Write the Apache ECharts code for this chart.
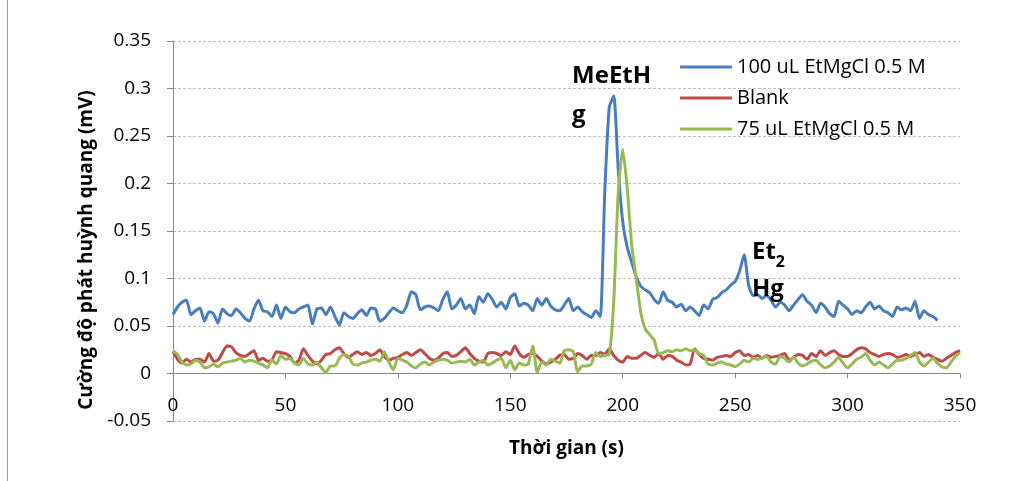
<!DOCTYPE html>
<html>
<head>
<meta charset="utf-8">
<script src="https://cdn.jsdelivr.net/npm/echarts@6/dist/echarts.min.js"></script>
<style>
html,body{margin:0;padding:0;background:#fff;}
#c{width:1011px;height:481px;}
</style>
</head>
<body>
<div id="c"></div>
<script>
const seriesNames = ['100 uL EtMgCl 0.5 M', 'Blank', '75 uL EtMgCl 0.5 M'];
const xTitle = 'Thời gian (s)';
const yTitle = 'Cường độ phát huỳnh quang (mV)';
const xTicks = [0, 50, 100, 150, 200, 250, 300, 350];
const yTicks = [-0.05, 0, 0.05, 0.1, 0.15, 0.2, 0.25, 0.3, 0.35];

const time = [0,2,4,6,8,10,12,14,16,18,20,22,24,26,28,30,32,34,36,38,40,42,44,46,48,50,52,54,56,58,60,62,64,66,68,70,
72,74,76,78,80,82,84,86,88,90,92,94,96,98,100,102,104,106,108,110,112,114,116,118,120,122,124,126,128,130,132,134,136,138,140,
142,144,146,148,150,152,154,156,158,160,162,164,166,168,170,172,174,176,178,180,182,184,186,188,190,192,194,196,198,200,202,204,206,208,210,
212,214,216,218,220,222,224,226,228,230,232,234,236,238,240,242,244,246,248,250,252,254,256,258,260,262,264,266,268,270,272,274,276,278,280,282,
284,286,288,290,292,294,296,298,300,302,304,306,308,310,312,314,316,318,320,322,324,326,328,330,332,334,336,338,340,342,344,346,348,350];

const blue = [0.062,0.070,0.075,0.077,0.062,0.066,0.069,0.055,0.065,0.063,
0.053,0.068,0.063,0.061,0.068,0.064,0.058,0.055,0.068,0.077,
0.066,0.065,0.060,0.072,0.058,0.070,0.065,0.064,0.068,0.070,
0.072,0.052,0.068,0.069,0.062,0.070,0.060,0.051,0.064,0.060,
0.058,0.063,0.067,0.061,0.069,0.068,0.055,0.058,0.064,0.069,
0.066,0.064,0.072,0.086,0.083,0.067,0.070,0.071,0.069,0.066,
0.078,0.086,0.068,0.072,0.079,0.068,0.072,0.063,0.081,0.075,
0.084,0.078,0.070,0.075,0.068,0.080,0.084,0.071,0.074,0.072,
0.066,0.079,0.072,0.079,0.071,0.067,0.066,0.072,0.079,0.066,
0.070,0.065,0.062,0.059,0.066,0.060,0.190,0.280,0.292,0.215,
0.160,0.133,0.117,0.102,0.092,0.088,0.085,0.078,0.074,0.086,
0.077,0.075,0.070,0.073,0.066,0.070,0.066,0.061,0.072,0.068,
0.078,0.080,0.085,0.088,0.093,0.097,0.108,0.125,0.093,0.082,
0.083,0.079,0.082,0.077,0.070,0.075,0.072,0.066,0.072,0.078,
0.083,0.076,0.072,0.064,0.074,0.070,0.063,0.060,0.076,0.072,
0.068,0.062,0.066,0.064,0.070,0.075,0.068,0.071,0.066,0.064,
0.060,0.070,0.067,0.069,0.066,0.076,0.058,0.066,0.062,0.060,
0.056];

const blank = [0.023,0.015,0.011,0.015,0.012,0.015,0.015,0.012,0.021,0.013,
0.014,0.022,0.029,0.028,0.022,0.019,0.018,0.021,0.024,0.014,
0.016,0.013,0.014,0.023,0.022,0.021,0.018,0.011,0.014,0.026,
0.019,0.013,0.010,0.014,0.020,0.021,
0.025,0.027,0.021,0.017,0.020,0.023,0.020,0.022,0.019,0.021,
0.025,0.018,0.014,0.016,0.017,0.020,0.022,0.019,0.022,0.025,
0.021,0.016,0.014,0.016,0.021,0.022,0.018,0.019,0.023,0.027,
0.021,0.016,0.013,0.012,0.021,
0.022,0.021,0.019,0.023,0.020,0.029,0.021,0.017,0.020,0.021,
0.018,0.013,0.010,0.012,0.015,0.019,0.020,0.015,0.016,0.021,
0.019,0.015,0.019,0.019,0.022,0.020,0.026,0.019,0.014,0.012,
0.018,0.016,0.016,0.019,0.022,
0.019,0.017,0.021,0.015,0.019,0.018,0.014,0.012,0.009,0.010,
0.026,0.020,0.016,0.015,0.014,0.017,0.018,0.019,0.018,0.022,
0.024,0.019,0.020,0.017,0.019,0.016,0.019,0.017,0.018,0.019,
0.021,0.014,0.017,0.020,0.019,0.015,
0.021,0.018,0.024,0.019,0.022,0.024,0.020,0.018,0.018,0.021,
0.025,0.027,0.026,0.022,0.020,0.018,0.020,0.021,0.020,0.017,
0.018,0.020,0.018,0.020,0.022,0.018,0.020,0.017,0.015,0.013,
0.016,0.019,0.022,0.024];

const green = [0.024,0.020,0.012,0.009,0.010,0.014,0.012,0.006,0.007,0.010,
0.007,0.011,0.012,0.013,0.014,0.016,0.012,0.014,0.013,0.011,
0.009,0.006,0.014,0.010,0.019,0.015,0.016,0.011,0.009,0.016,
0.010,0.009,0.012,0.006,0.001,0.008,
0.008,0.016,0.020,0.018,0.010,0.009,0.011,0.012,0.014,0.015,
0.013,0.023,0.012,0.004,0.016,0.014,0.012,0.008,0.006,0.010,
0.012,0.009,0.012,0.014,0.015,0.014,0.011,0.012,0.013,0.012,
0.015,0.009,0.012,0.014,0.009,
0.011,0.014,0.016,0.006,0.014,0.004,0.011,0.009,0.010,0.029,
0.001,0.012,0.009,0.015,0.013,0.011,0.024,0.025,0.023,0.002,
0.008,0.008,0.010,0.022,0.018,0.019,0.020,0.075,0.190,0.236,
0.195,0.135,0.100,0.065,0.047,
0.041,0.035,0.021,0.022,0.024,0.023,0.025,0.024,0.026,0.024,
0.025,0.021,0.019,0.010,0.009,0.011,0.012,0.010,0.009,0.007,
0.010,0.014,0.012,0.016,0.015,0.016,0.018,0.012,0.010,0.018,
0.016,0.012,0.017,0.011,0.008,0.010,
0.013,0.014,0.009,0.006,0.008,0.012,0.017,0.011,0.006,0.010,
0.015,0.017,0.021,0.014,0.009,0.012,0.009,0.006,0.010,0.014,
0.014,0.016,0.019,0.022,0.012,0.008,0.012,0.016,0.011,0.007,
0.006,0.012,0.018,0.022];

const annotTexts = ['{a|MeEtH}\n{a|g}', '{a|Et}{s|2}\n{b|Hg}'];
const annotT = [177.5, 257.5];
const annotV = [0.3335, 0.147];

const colors = ['#4A7EBB', '#BE4B48', '#98B954'];
const FONT = '"Open Sans", "DejaVu Sans", sans-serif';

function pairs(vals) { return vals.map((v, i) => [time[i], v]); }

const chart = echarts.init(document.getElementById('c'), null, {renderer: 'canvas'});
const valuesList = [blue, blank, green];

const option = {
  animation: false,
  backgroundColor: '#fff',
  textStyle: {fontFamily: FONT},
  grid: {left: 173, right: 51, top: 41, bottom: 60, containLabel: false, outerBoundsMode: 'none'},
  legend: {
    orient: 'vertical', left: 675, top: 52, itemGap: 11,
    itemWidth: 52, itemHeight: 3, icon: 'rect',
    textStyle: {fontFamily: FONT, fontSize: 20, color: '#000', lineHeight: 20},
    data: seriesNames
  },
  xAxis: {
    type: 'value', min: xTicks[0], max: xTicks[xTicks.length - 1], interval: 50,
    axisLine: {show: true, onZero: true, lineStyle: {color: '#868686', width: 1}},
    axisTick: {show: true, length: 5, lineStyle: {color: '#868686'}},
    axisLabel: {fontFamily: FONT, fontSize: 19, color: '#000', margin: -25},
    splitLine: {show: false},
    name: xTitle, nameLocation: 'middle', nameGap: 18,
    nameTextStyle: {fontFamily: FONT, fontSize: 19, fontWeight: 'bold', color: '#000'}
  },
  yAxis: {
    type: 'value', min: yTicks[0], max: yTicks[yTicks.length - 1], interval: 0.05,
    axisLine: {show: true, onZero: false, lineStyle: {color: '#868686', width: 1}},
    axisTick: {show: true, length: 6, lineStyle: {color: '#868686'}},
    axisLabel: {fontFamily: FONT, fontSize: 19, color: '#000', margin: 22,
      formatter: v => String(parseFloat(v.toFixed(2)))},
    splitLine: {show: true, lineStyle: {color: '#BDBDBD', width: 1, type: [3, 2]}},
    name: yTitle, nameLocation: 'middle', nameGap: 76, nameRotate: 90,
    nameTextStyle: {fontFamily: FONT, fontSize: 19, fontWeight: 'bold', color: '#000', padding: [0, 38, 0, 0]}
  },
  series: valuesList.map((vals, k) => ({
    name: seriesNames[k], type: 'line', data: pairs(vals),
    showSymbol: false, symbol: 'none', smooth: 0.2,
    lineStyle: {color: colors[k], width: 3}, itemStyle: {color: colors[k]},
    z: 2 + k,
    markPoint: k === 0 ? {
      symbol: 'circle', symbolSize: 0, silent: true,
      data: annotTexts.map((txt, i) => ({
        coord: [annotT[i], annotV[i]],
        label: {
          show: true, position: [0, 0], align: 'left', verticalAlign: 'top',
          formatter: txt,
          rich: {
            a: {fontFamily: FONT, fontSize: 24, fontWeight: 'bold', color: '#000', lineHeight: i === 0 ? 39 : 37},
            b: {fontFamily: FONT, fontSize: 24, fontWeight: 'bold', color: '#000', lineHeight: 37},
            s: {fontFamily: FONT, fontSize: 16, fontWeight: 'bold', color: '#000', lineHeight: 23, verticalAlign: 'bottom'}
          }
        }
      }))
    } : undefined
  })),
  graphic: [{
    type: 'line', shape: {x1: 7.5, y1: 0, x2: 7.5, y2: 481},
    style: {stroke: '#9a9a9a', lineWidth: 1}, silent: true
  }]
};
chart.setOption(option);
</script>
</body>
</html>
